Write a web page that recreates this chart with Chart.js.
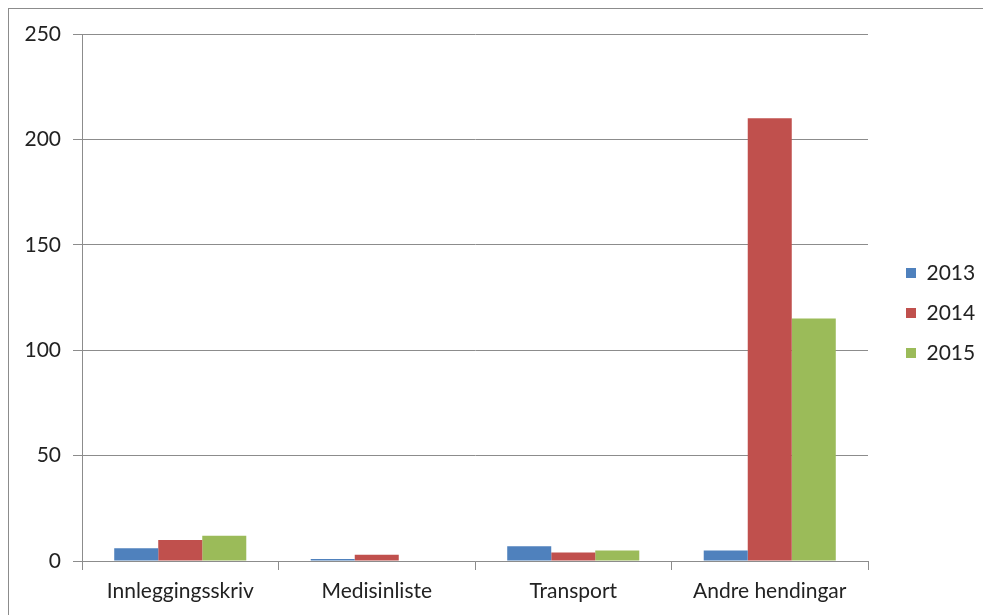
<!DOCTYPE html>
<html>
<head>
<meta charset="utf-8">
<script src="https://cdn.jsdelivr.net/npm/chart.js@4"></script>
<style>
  html, body { margin: 0; padding: 0; background: #fff; overflow: hidden; }
  #frame { position: absolute; left: 8px; top: 8px; border-top: 1px solid #8c8c8c; border-left: 1px solid #8c8c8c; }
  #chart { display: block; }
</style>
</head>
<body>
<div id="frame"><canvas id="chart" width="975" height="606"></canvas></div>
<script>
const categories = ['Innleggingsskriv', 'Medisinliste', 'Transport', 'Andre hendingar'];
const years = ['2013', '2014', '2015'];
const values2013 = [6, 1, 7, 5];
const values2014 = [10, 3, 4, 210];
const values2015 = [12, 0, 5, 115];
const yTicks = [0, 50, 100, 150, 200, 250];

const colors = ['#4f81bd', '#c0504d', '#9bbb59'];
const fontFamily = 'Lato, "Open Sans", sans-serif';
const gridColor = '#8c8c8c';

// fixed legend column, like the Excel layout
const legendPlace = {
  id: 'legendPlace',
  afterInit(chart) {
    const lg = chart.legend;
    const fit = lg.fit.bind(lg);
    lg.fit = function () {
      fit();
      this.width = 116;
    };
  },
  beforeDraw(chart) {
    const lg = chart.legend;
    lg.left = chart.chartArea.right + 19;
    lg.right = lg.left + 116;
    lg.top = 0;
    lg.bottom = 608;
  }
};

document.addEventListener('DOMContentLoaded', function () {
  const ctx = document.getElementById('chart').getContext('2d');
  new Chart(ctx, {
    type: 'bar',
    data: {
      labels: categories,
      datasets: [
        { label: years[0], data: values2013, backgroundColor: colors[0] },
        { label: years[1], data: values2014, backgroundColor: colors[1] },
        { label: years[2], data: values2015, backgroundColor: colors[2] }
      ]
    },
    options: {
      responsive: false,
      animation: false,
      layout: { padding: { top: 25, left: 0, right: 0, bottom: 0 } },
      datasets: {
        bar: { categoryPercentage: 0.672, barPercentage: 1, borderWidth: 0 }
      },
      scales: {
        x: {
          offset: true,
          grid: {
            display: true,
            offset: true,
            drawOnChartArea: false,
            drawTicks: true,
            tickLength: 9,
            color: gridColor
          },
          border: { display: true, color: gridColor, width: 1 },
          ticks: { color: '#222', padding: 9, font: { family: fontFamily, size: 21 } },
          afterFit(scale) { scale.height = 54; }
        },
        y: {
          min: 0,
          max: 250,
          afterBuildTicks(scale) { scale.ticks = yTicks.map(v => ({ value: v })); },
          grid: { color: gridColor, tickLength: 9, drawTicks: true },
          border: { display: true, color: gridColor, width: 1 },
          ticks: { color: '#222', padding: 12, font: { family: fontFamily, size: 21 } },
          afterFit(scale) { scale.width = 73; }
        }
      },
      plugins: {
        legend: {
          position: 'right',
          labels: {
            boxWidth: 10,
            boxHeight: 10,
            padding: 19,
            color: '#222',
            font: { family: fontFamily, size: 21 }
          }
        },
        tooltip: { enabled: false }
      }
    },
    plugins: [legendPlace]
  });
});
</script>
</body>
</html>
